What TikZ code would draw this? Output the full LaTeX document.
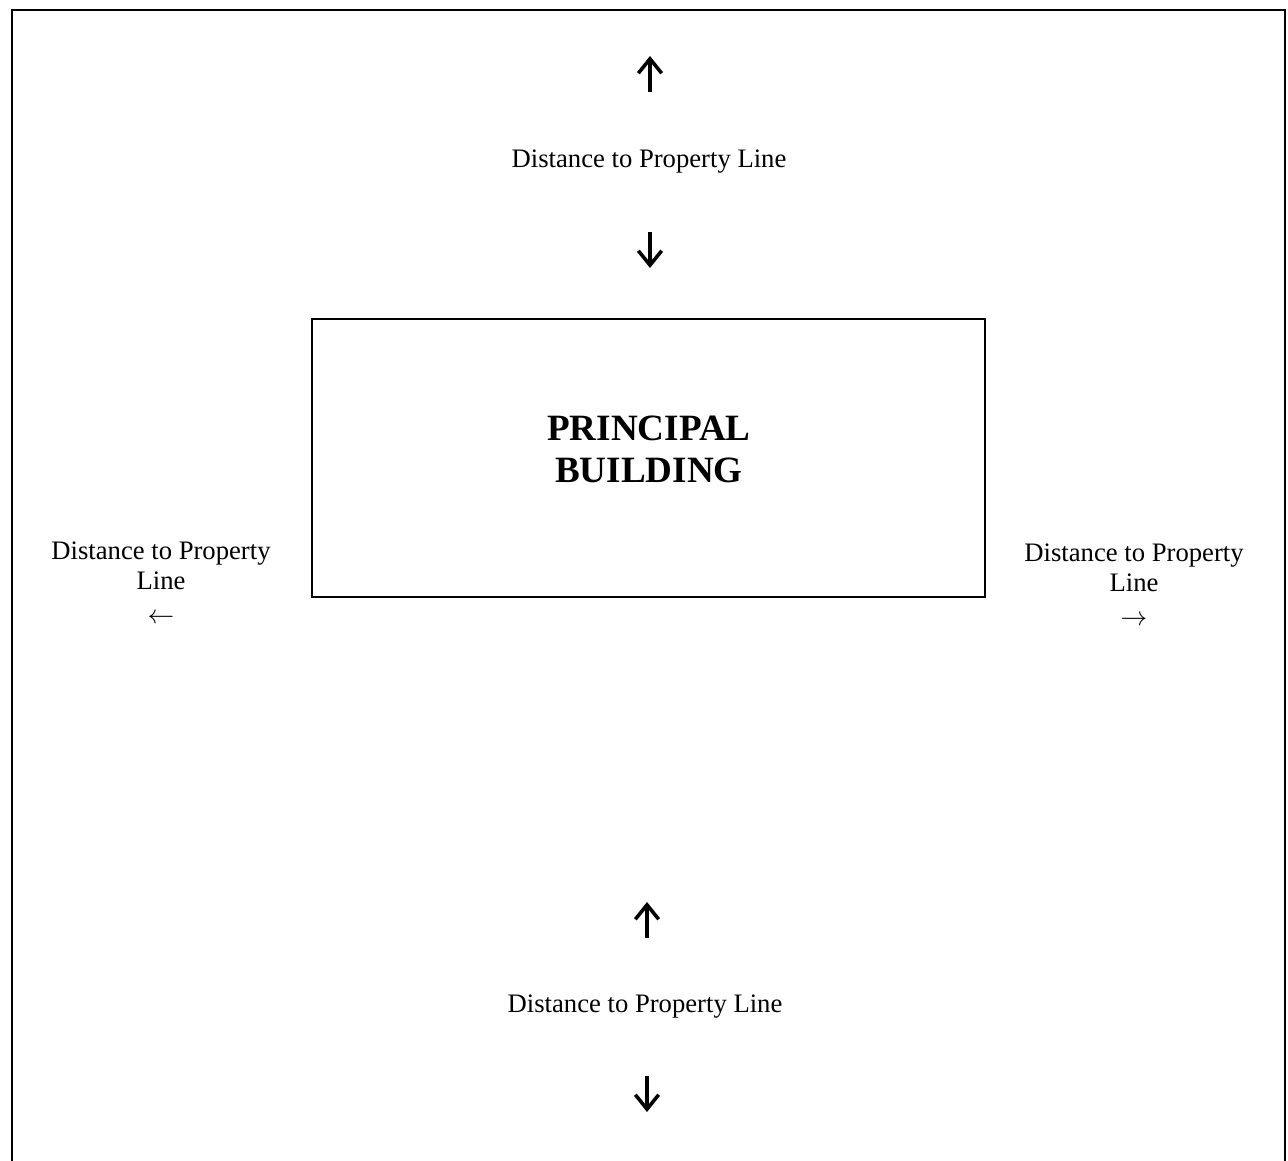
\documentclass[tikz,border=0pt]{standalone}
\usepackage{fontspec}
\setmainfont{Liberation Serif}
\usetikzlibrary{positioning, arrows.meta}
\tikzset{
x=0.45pt, y=-0.45pt, % one unit is one pixel of the plan
lotline/.style={line width=0.9pt}, % the property line round the lot
building/.style={draw, line width=0.7pt, minimum width=302.9pt, minimum height=125.1pt, inner sep=0pt},
distlabel/.style={font=\fontsize{12}{13.5}\selectfont, align=center, inner sep=0pt, anchor=base},
bigarrow/.style={line width=1.5pt, -{Straight Barb[length=6.5pt, width=10.5pt, line width=1.6pt]}}, % the long up and down arrows
}
\begin{document}
\begin{tikzpicture}
\useasboundingbox (0,0) rectangle (1288,1161);

% lot
\draw[lotline] (12,1161) -- (12,10) -- (1285,10) -- (1285,1161);

% building
\node[building] (bldg) at (648.5,458) {};
\node[font=\fontsize{16.7}{18.9}\selectfont\bfseries, align=center, inner sep=0pt] (bldgname) at (649,449) {PRINCIPAL\\BUILDING};

% labels
\node[distlabel] (toplbl) at (649,168) {Distance to Property Line};
\node[distlabel] (botlbl) at (645,1012) {Distance to Property Line};
\node[distlabel] (leftlbl) at (161,624) {Distance to Property\\Line\\[2pt]$\leftarrow$};
\node[distlabel] (rightlbl) at (1134,626) {Distance to Property\\Line\\[2pt]$\rightarrow$};

% arrow ends
\coordinate (topup1) at (650,92);
\coordinate (topup2) at (650,56);
\coordinate (topdn1) at (650,232);
\coordinate (topdn2) at (650,268);
\coordinate (botup1) at (647,938);
\coordinate (botup2) at (647,902);
\coordinate (botdn1) at (647,1076);
\coordinate (botdn2) at (647,1112);

\draw[bigarrow] (topup1) -- (topup2);
\draw[bigarrow] (topdn1) -- (topdn2);
\draw[bigarrow] (botup1) -- (botup2);
\draw[bigarrow] (botdn1) -- (botdn2);
\end{tikzpicture}
\end{document}
